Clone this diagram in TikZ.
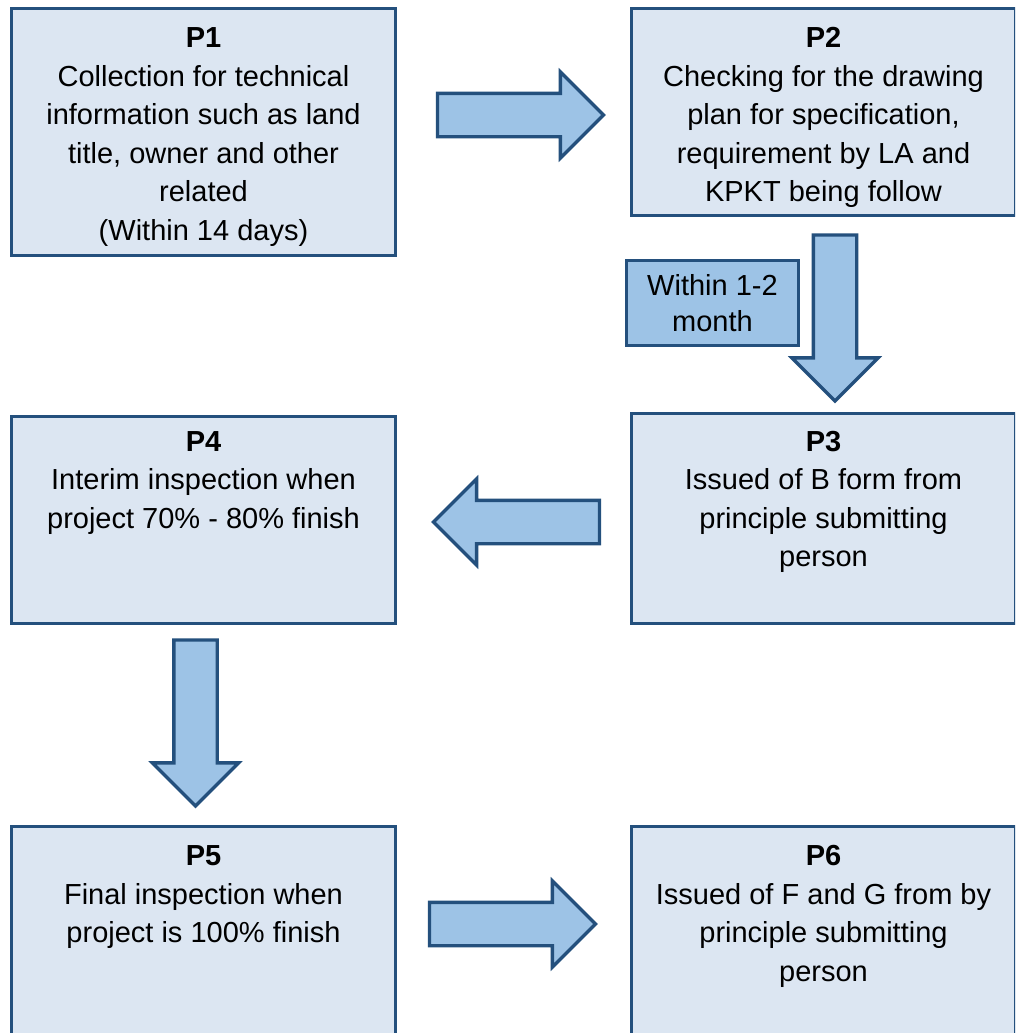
\documentclass[tikz,border=0pt]{standalone}
\usepackage{fontspec}
\setmainfont{Liberation Sans}
\usepackage{xcolor}
\usetikzlibrary{shapes.arrows, positioning, calc}

\definecolor{boxfill}{HTML}{DCE6F2}
\definecolor{boxline}{HTML}{24507D}
\definecolor{arrowfill}{HTML}{9DC3E6}

\begin{document}
\begin{tikzpicture}[x=1pt, y=-1pt,
    procbox/.style={rectangle, draw=boxline, fill=boxfill, line width=3.3pt, minimum width=384pt, inner sep=0pt},
    proctext/.style={align=center, inner sep=0pt, font=\fontsize{29}{38.5}\selectfont},
    blockarrow/.style={single arrow, draw=boxline, fill=arrowfill, line width=3.3pt, inner sep=20pt, single arrow head extend=21.5pt, minimum height=166pt},
    notebox/.style={rectangle, draw=boxline, fill=arrowfill, line width=3.3pt, minimum width=172pt, minimum height=85pt, inner sep=0pt, align=center, font=\fontsize{29}{36}\selectfont}]

    % Page frame, the original is cut off on the right and at the bottom
    \path[use as bounding box, fill=white] (0,0) rectangle (1015,1033);
    \clip (0,0) rectangle (1015,1033);

    % Process boxes
    \node[procbox, minimum height=247pt] (p1) at (203.5,132) {};
    \node[procbox, minimum height=207pt] (p2) at (823.5,112) {};
    \node[procbox, minimum height=210pt] (p3) at (823.5,518.5) {};
    \node[procbox, minimum height=207pt] (p4) at (203.5,520) {};
    \node[procbox, minimum height=224pt] (p5) at (203.5,938.5) {};
    \node[procbox, minimum height=224pt] (p6) at (823.5,938.5) {};

    % Box texts, hung from the top edge
    \node[proctext, below=20.5pt of p1.north] (p1t) {\textbf{P1}\\Collection for technical\\information such as land\\title, owner and other\\related\\(Within 14 days)};
    \node[proctext, below=20.5pt of p2.north] (p2t) {\textbf{P2}\\Checking for the drawing\\plan for specification,\\requirement by LA and\\KPKT being follow};
    \node[proctext, below=19pt of p3.north] (p3t) {\textbf{P3}\\Issued of B form from\\principle submitting\\person};
    \node[proctext, below=16pt of p4.north] (p4t) {\textbf{P4}\\Interim inspection when\\project 70\% - 80\% finish};
    \node[proctext, below=20.5pt of p5.north] (p5t) {\textbf{P5}\\Final inspection when\\project is 100\% finish};
    \node[proctext, below=20.5pt of p6.north] (p6t) {\textbf{P6}\\Issued of F and G from by\\principle submitting\\person};

    % Block arrows between the boxes
    \node[blockarrow, anchor=tip] (a12) at ($(p2.west)+(-24,3)$) {};
    \node[blockarrow, shape border rotate=270, anchor=tip] (a23) at ($(p3.north)+(11.5,-8.5)$) {};
    \node[blockarrow, shape border rotate=180, anchor=tip] (a34) at ($(p4.east)+(34,2)$) {};
    \node[blockarrow, shape border rotate=270, anchor=tip] (a45) at ($(p5.north)+(-8,-16.5)$) {};
    \node[blockarrow, anchor=tip] (a56) at ($(p6.west)+(-32,-14.5)$) {};

    % Time note beside the P2 arrow
    \node[notebox] (within) at (712.5,303) {Within 1-2\\month};

\end{tikzpicture}
\end{document}
